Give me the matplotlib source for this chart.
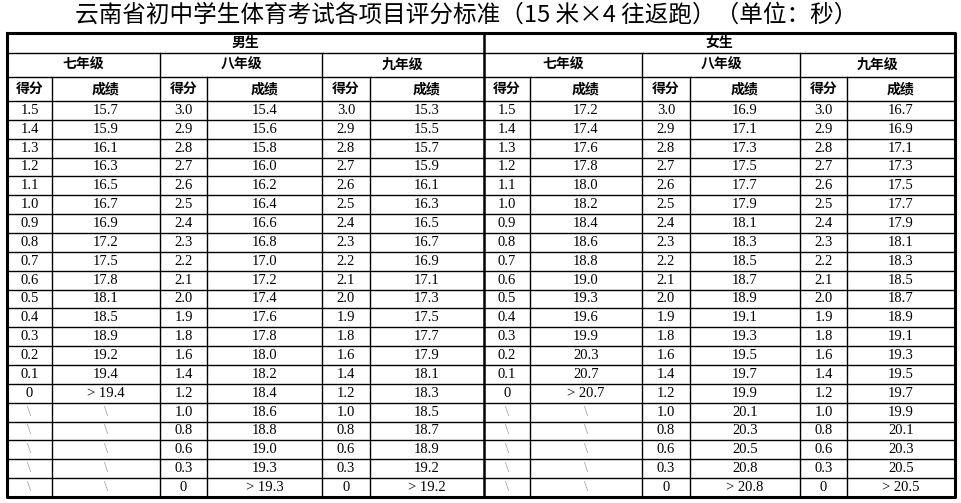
import matplotlib.pyplot as plt

plt.rcParams['font.family'] = ['Noto Sans CJK SC', 'DejaVu Sans']

title = '云南省初中学生体育考试各项目评分标准（15 米×4 往返跑）（单位：秒）'
genders = ['男生', '女生']
grades = ['七年级', '八年级', '九年级']

boy7_score = ['1.5', '1.4', '1.3', '1.2', '1.1', '1.0', '0.9', '0.8', '0.7', '0.6', '0.5', '0.4', '0.3', '0.2', '0.1', '0', '\\', '\\', '\\', '\\', '\\']
boy7_time = ['15.7', '15.9', '16.1', '16.3', '16.5', '16.7', '16.9', '17.2', '17.5', '17.8', '18.1', '18.5', '18.9', '19.2', '19.4', '> 19.4', '\\', '\\', '\\', '\\', '\\']
boy8_score = ['3.0', '2.9', '2.8', '2.7', '2.6', '2.5', '2.4', '2.3', '2.2', '2.1', '2.0', '1.9', '1.8', '1.6', '1.4', '1.2', '1.0', '0.8', '0.6', '0.3', '0']
boy8_time = ['15.4', '15.6', '15.8', '16.0', '16.2', '16.4', '16.6', '16.8', '17.0', '17.2', '17.4', '17.6', '17.8', '18.0', '18.2', '18.4', '18.6', '18.8', '19.0', '19.3', '> 19.3']
boy9_score = boy8_score
boy9_time = ['15.3', '15.5', '15.7', '15.9', '16.1', '16.3', '16.5', '16.7', '16.9', '17.1', '17.3', '17.5', '17.7', '17.9', '18.1', '18.3', '18.5', '18.7', '18.9', '19.2', '> 19.2']
girl7_score = boy7_score
girl7_time = ['17.2', '17.4', '17.6', '17.8', '18.0', '18.2', '18.4', '18.6', '18.8', '19.0', '19.3', '19.6', '19.9', '20.3', '20.7', '> 20.7', '\\', '\\', '\\', '\\', '\\']
girl8_score = boy8_score
girl8_time = ['16.9', '17.1', '17.3', '17.5', '17.7', '17.9', '18.1', '18.3', '18.5', '18.7', '18.9', '19.1', '19.3', '19.5', '19.7', '19.9', '20.1', '20.3', '20.5', '20.8', '> 20.8']
girl9_score = boy8_score
girl9_time = ['16.7', '16.9', '17.1', '17.3', '17.5', '17.7', '17.9', '18.1', '18.3', '18.5', '18.7', '18.9', '19.1', '19.3', '19.5', '19.7', '19.9', '20.1', '20.3', '20.5', '> 20.5']

columns = [boy7_score, boy7_time, boy8_score, boy8_time, boy9_score, boy9_time,
           girl7_score, girl7_time, girl8_score, girl8_time, girl9_score, girl9_time]

# layout in pixels
xs = [7, 52, 160, 207, 322, 370, 484, 530, 642, 690, 800, 847, 955]
top, h1, h2, h3, bottom = 33, 53, 77, 101, 497
nrows = len(boy8_score)
rh = (bottom - h3) / nrows

fig = plt.figure(figsize=(9.62, 5.03), dpi=100)
ax = fig.add_axes([0, 0, 1, 1])
ax.set_xlim(0, 962)
ax.set_ylim(503, 0)
ax.axis('off')

ax.text(466, 15, title, ha='center', va='center', fontsize=17)

lc = 'black'
# horizontal lines
ax.plot([xs[0], xs[-1]], [h1, h1], color=lc, lw=1)
ax.plot([xs[0], xs[-1]], [h2, h2], color=lc, lw=1)
for i in range(nrows):
    y = h3 + i * rh
    ax.plot([xs[0], xs[-1]], [y, y], color=lc, lw=1)
# vertical lines
for k, x in enumerate(xs[1:-1], start=1):
    if k == 6:
        continue
    y0 = h1 if k % 2 == 0 else h2
    ax.plot([x, x], [y0, bottom], color=lc, lw=1)
ax.plot([xs[6], xs[6]], [top, bottom], color=lc, lw=1.8)
ax.plot([xs[0], xs[-1], xs[-1], xs[0], xs[0]], [top, top, bottom, bottom, top], color=lc, lw=2.2)

for g, name in enumerate(genders):
    ax.text((xs[6 * g] + xs[6 * g + 6]) / 2, (top + h1) / 2, name, ha='center', va='center',
            fontsize=10, fontweight='bold')
    for j, gr in enumerate(grades):
        c = 6 * g + 2 * j
        ax.text((xs[c] + xs[c + 2]) / 2, (h1 + h2) / 2, gr, ha='center', va='center',
                fontsize=10, fontweight='bold')
        ax.text((xs[c] + xs[c + 1]) / 2, (h2 + h3) / 2, '得分', ha='center', va='center',
                fontsize=10, fontweight='bold')
        ax.text((xs[c + 1] + xs[c + 2]) / 2, (h2 + h3) / 2, '成绩', ha='center', va='center',
                fontsize=10, fontweight='bold')

for c, col in enumerate(columns):
    xc = (xs[c] + xs[c + 1]) / 2
    for i, v in enumerate(col):
        ax.text(xc, h3 + (i + 0.5) * rh, v, ha='center', va='center', fontsize=10.5,
                family=['Liberation Serif'], color='#999999' if v == '\\' else 'black')

fig.savefig('out.png', dpi=100)
